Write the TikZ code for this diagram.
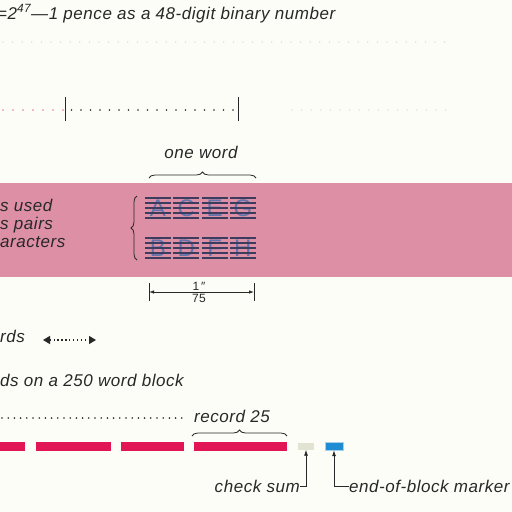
\documentclass[tikz,border=0pt]{standalone}
\usepackage{fontspec}
\setmainfont{Liberation Sans}[LetterSpace=3.2]
\usetikzlibrary{arrows.meta,decorations.pathreplacing}
\definecolor{paper}{RGB}{253,253,247}
\definecolor{tapepink}{RGB}{221,143,166}
\definecolor{recred}{RGB}{226,22,84}
\definecolor{markblue}{RGB}{30,140,210}
\definecolor{sumgrey}{RGB}{226,227,210}
\definecolor{inkblue}{RGB}{100,115,170}
\definecolor{trackline}{RGB}{60,60,95}
\definecolor{ink}{RGB}{40,40,40}
\definecolor{faint}{RGB}{228,228,222}

\begin{document}
\begin{tikzpicture}[x=1pt,y=-1pt,
  lbl/.style={font=\fontsize{17}{18}\selectfont\itshape, text=ink, inner sep=0pt},
  tinylbl/.style={font=\fontsize{12}{12}\selectfont, text=ink, inner sep=0pt},
  trackchar/.style={font=\fontsize{24}{24}\selectfont, text=inkblue, inner sep=0pt},
  track/.style={trackline, line width=1.3pt},
  tick/.style={ink, line width=0.9pt},
  bracket/.style={ink, line width=0.8pt, decorate, decoration={brace, amplitude=6pt}},
  pointer/.style={ink, line width=0.8pt, -{Latex[length=6pt, width=4pt]}},
  recbar/.style={fill=recred},
  box/.style={minimum height=7pt, inner sep=0pt}]
\useasboundingbox[fill=paper] (0,0) rectangle (512,512);

% 48-digit number
\node[lbl, anchor=base west] (title) at (-3,19) {=2\textsuperscript{47}—1 pence as a 48-digit binary number};
\foreach \x in {3,12.6,...,452} \fill[faint] (\x,42) circle (0.9pt);
\foreach \x in {3,13,...,63} \fill[recred!60] (\x,110) circle (0.8pt);
\foreach \x in {71.5,81,...,236} \fill[ink] (\x,110) circle (0.9pt);
\foreach \x in {292,301.6,...,452} \fill[faint] (\x,110) circle (0.9pt);
\draw[tick] (65,97) -- (65,121);
\draw[tick] (238,97) -- (238,121);

% tape
\node[lbl] (word) at (201,152) {one word};
\draw[bracket] (149,178) -- (256,178);
\fill[tapepink] (0,183) rectangle (512,277);
\node[lbl, anchor=north west, align=left] (pairs) at (0,199) {s used\\s pairs\\aracters};
\draw[bracket] (137,260) -- (137,196);
\foreach \c/\up/\dn [count=\i] in {0/A/B,1/C/D,2/E/F,3/G/H} {
  \node[trackchar] (up\i) at (145+28.3*\c+13,208) {\up};
  \node[trackchar] (dn\i) at (145+28.3*\c+13,248) {\dn};
  \foreach \y in {198,203,...,218} \draw[track] (145+28.3*\c,\y) -- ++(26,0);
  \foreach \y in {238,243,...,258} \draw[track] (145+28.3*\c,\y) -- ++(26,0);
}

% 1/75 inch
\coordinate (dl) at (149,292);
\coordinate (dr) at (254,292);
\draw[tick] (149,283) -- (149,301);
\draw[tick] (254,283) -- (254,301);
\draw[ink, line width=0.8pt, {Latex[length=5pt, width=3.5pt]}-{Latex[length=5pt, width=3.5pt]}] (dl) -- (dr);
\node[tinylbl, fill=paper, inner xsep=1pt, anchor=south] (one) at (199,291) {1\,″};
\node[tinylbl, fill=paper, inner xsep=1pt, anchor=north] (sevfive) at (199,294) {75};

% gap
\node[lbl, anchor=west] (rds) at (0,336) {rds};
\coordinate (al) at (43,340);
\coordinate (ar) at (96,340);
\draw[ink, line width=1.3pt, dash pattern=on 1.3pt off 2.6pt,
  {Triangle[length=7pt, width=8pt]}-{Triangle[length=7pt, width=8pt]}] (al) -- (ar);
\node[lbl, anchor=west] (block) at (0,380) {ds on a 250 word block};

% records
\foreach \x in {2,8.2,...,184} \fill[ink] (\x,418) circle (0.9pt);
\node[lbl] (rec) at (232,416) {record 25};
\draw[bracket] (192,436) -- (287,436);
\fill[recbar] (0,442) rectangle (25,451);
\fill[recbar] (36,442) rectangle (111,451);
\fill[recbar] (121,442) rectangle (184,451);
\fill[recbar] (194,442) rectangle (287,451);
\node[box, minimum width=16pt, fill=sumgrey] (csum) at (306,446) {};
\node[box, minimum width=18pt, minimum height=8pt, fill=markblue, draw=markblue!40] (marker) at (334,446) {};
\node[lbl, anchor=east] (cslbl) at (300,486) {check sum};
\node[lbl, anchor=west] (eblbl) at (349,486) {end-of-block marker};
\draw[pointer] (cslbl.east) -| (csum.south);
\draw[pointer] (eblbl.west) -| (marker.south);
\end{tikzpicture}
\end{document}
